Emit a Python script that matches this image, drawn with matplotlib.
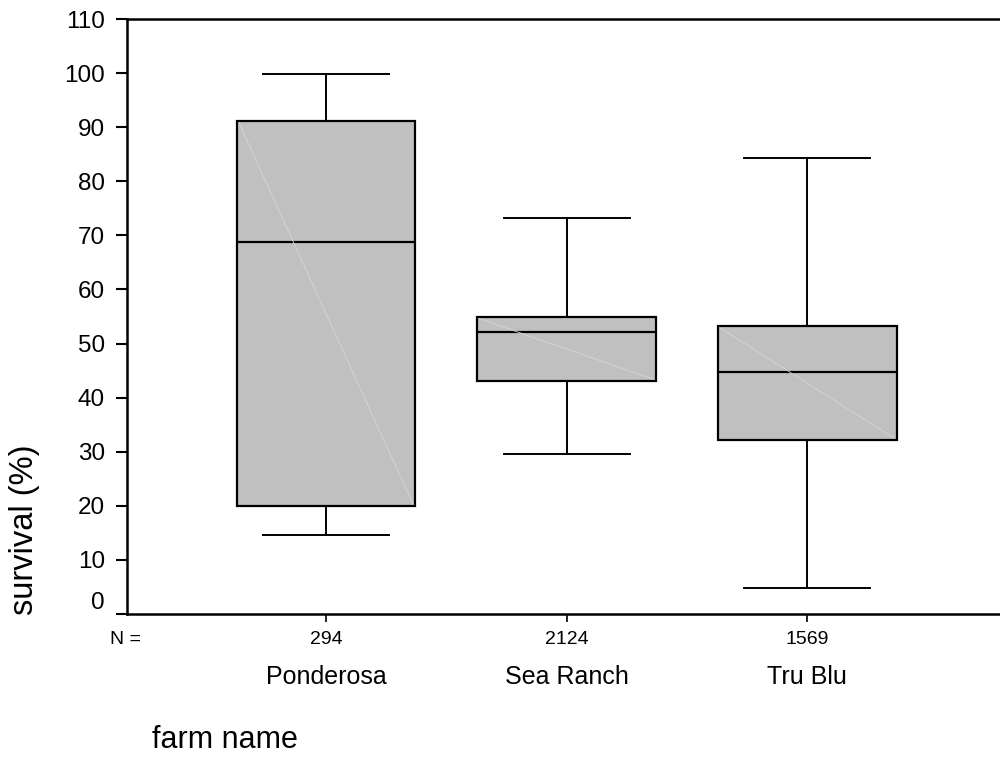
import matplotlib
matplotlib.use('Agg')
import matplotlib.pyplot as plt
import matplotlib.transforms as mtransforms

plt.rcParams['font.family'] = ['Liberation Sans', 'DejaVu Sans']

# boxplot stats (survival %)
farms = ['Ponderosa', 'Sea Ranch', 'Tru Blu']
n_obs = [294, 2124, 1569]
whisk_lo = [14.6, 29.6, 4.8]
q1 = [20.0, 43.1, 32.2]
med = [68.8, 52.1, 44.7]
q3 = [91.1, 54.9, 53.2]
whisk_hi = [99.8, 73.2, 84.3]

pos = [1, 2, 3]
box_w = 0.744

fig = plt.figure(figsize=(10, 7.8), dpi=100)
ax = fig.add_axes([0.127, 0.2128, 0.873, 0.7628])

stats = []
for i in range(len(farms)):
    stats.append(dict(whislo=whisk_lo[i], q1=q1[i], med=med[i], q3=q3[i],
                      whishi=whisk_hi[i], fliers=[], label=farms[i]))

ax.bxp(stats, positions=pos, widths=box_w, patch_artist=True, showfliers=False,
       capwidths=0.524,
       boxprops=dict(facecolor='#c0c0c0', edgecolor='black', linewidth=1.6),
       medianprops=dict(color='black', linewidth=1.6),
       whiskerprops=dict(color='black', linewidth=1.4),
       capprops=dict(color='black', linewidth=1.4))

# faint diagonal seam inside each box (as in the original render)
for i, p in enumerate(pos):
    ax.plot([p - box_w / 2 + 0.01, p + box_w / 2 - 0.01], [q3[i] - 0.3, q1[i] + 0.3],
            color='#d6d6d6', lw=0.6, zorder=3)

ax.set_xlim(0.1726, 3.802)
ax.set_ylim(0, 110)
ax.set_yticks(range(0, 111, 10))
ax.set_xticks(pos)
ax.set_xticklabels([str(n) for n in n_obs], fontsize=14)
ax.tick_params(axis='y', labelsize=17.5, length=8, width=1.5, pad=8, direction='out')
ax.tick_params(axis='x', length=6, width=1.2, pad=6, direction='out')

# SPSS draws the "0" label a bit above its tick
lab0 = ax.get_yticklabels()[0]
lab0.set_transform(lab0.get_transform() +
                   mtransforms.ScaledTranslation(0, 10 / 72, fig.dpi_scale_trans))

for s in ['left', 'bottom', 'top']:
    ax.spines[s].set_linewidth(1.8)
ax.spines['right'].set_visible(False)

trans = mtransforms.blended_transform_factory(ax.transData, fig.transFigure)
for p, f in zip(pos, farms):
    ax.text(p, 1 - 677 / 780, f, transform=trans, ha='center', va='center', fontsize=18)

fig.text(0.125, 1 - 640 / 780, 'N =', ha='center', va='center', fontsize=14)
fig.text(0.025, 1 - 530 / 780, 'survival (%)', rotation=90, ha='center', va='center',
         fontsize=23.5)
fig.text(0.152, 1 - 740 / 780, 'farm name', ha='left', va='center', fontsize=22)

fig.savefig('out.png', dpi=100)
